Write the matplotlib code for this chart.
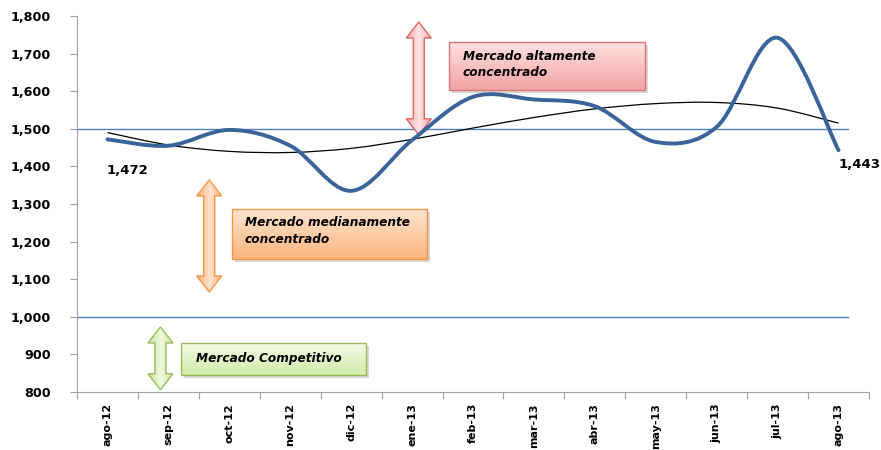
import matplotlib.pyplot as plt
import numpy as np
from matplotlib.path import Path
from matplotlib.patches import PathPatch, Polygon, Rectangle
from matplotlib.colors import LinearSegmentedColormap
from matplotlib.ticker import FuncFormatter, MultipleLocator

months = ['ago-12', 'sep-12', 'oct-12', 'nov-12', 'dic-12', 'ene-13', 'feb-13',
          'mar-13', 'abr-13', 'may-13', 'jun-13', 'jul-13', 'ago-13']
hhi = [1472, 1455, 1497, 1455, 1335, 1470, 1585, 1578, 1560, 1465, 1505, 1742, 1443]
trend = [1490, 1457, 1440, 1437, 1448, 1472, 1502, 1530, 1553, 1567, 1570, 1555, 1515]
thresholds = [1000, 1500]

PX_X = 1 / 60.9      # one pixel in category units
PX_Y = 100 / 37.6    # one pixel in value units


def smooth_path(xs, ys):
    # excel-like smoothed line: cubic bezier segments, catmull-rom control points
    xs = np.asarray(xs, float)
    ys = np.asarray(ys, float)
    n = len(xs)
    verts = [(xs[0], ys[0])]
    codes = [Path.MOVETO]
    for i in range(n - 1):
        p0 = (xs[max(i - 1, 0)], ys[max(i - 1, 0)])
        p1 = (xs[i], ys[i])
        p2 = (xs[i + 1], ys[i + 1])
        p3 = (xs[min(i + 2, n - 1)], ys[min(i + 2, n - 1)])
        c1 = (p1[0] + (p2[0] - p0[0]) / 6, p1[1] + (p2[1] - p0[1]) / 6)
        c2 = (p2[0] - (p3[0] - p1[0]) / 6, p2[1] - (p3[1] - p1[1]) / 6)
        verts += [c1, c2, p2]
        codes += [Path.CURVE4] * 3
    return Path(verts, codes)


def gradient_fill(ax, patch, extent, colors, horizontal=False, z=3):
    ax.add_patch(patch)
    cmap = LinearSegmentedColormap.from_list('g', colors)
    if horizontal:
        img = np.linspace(0, 1, 64)[None, :]
    else:
        img = np.linspace(0, 1, 64)[:, None]
    im = ax.imshow(img, cmap=cmap, extent=extent, origin='upper',
                   aspect='auto', zorder=z, interpolation='bilinear')
    im.set_clip_path(patch)


def block_arrow(ax, xc, ylo, yhi, colors, edge):
    # double headed block arrow, sizes in pixels converted to data units
    sw, hw, hl = 5.5 * PX_X, 12.5 * PX_X, 16 * PX_Y
    pts = [(xc, yhi), (xc + hw, yhi - hl), (xc + sw, yhi - hl), (xc + sw, ylo + hl),
           (xc + hw, ylo + hl), (xc, ylo), (xc - hw, ylo + hl), (xc - sw, ylo + hl),
           (xc - sw, yhi - hl), (xc - hw, yhi - hl)]
    gradient_fill(ax, Polygon(pts, closed=True, facecolor='none', edgecolor='none'),
                  (xc - hw, xc + hw, ylo, yhi), colors, horizontal=True, z=3)
    ax.add_patch(Polygon(pts, closed=True, facecolor='none', edgecolor=edge, lw=1.0, zorder=4))


def label_box(ax, x0, x1, y0, y1, top, bottom, edge, lines, tx, ty, dy):
    shadow = Rectangle((x0 + 3 * PX_X, y0 - 3 * PX_Y), x1 - x0, y1 - y0, facecolor='#bdbdbd',
                       edgecolor='none', alpha=0.6, zorder=2)
    ax.add_patch(shadow)
    gradient_fill(ax, Rectangle((x0, y0), x1 - x0, y1 - y0, facecolor='none', edgecolor='none'),
                  (x0, x1, y0, y1), [top, bottom], z=3)
    ax.add_patch(Rectangle((x0, y0), x1 - x0, y1 - y0, facecolor='none', edgecolor=edge,
                           lw=1.0, zorder=4))
    for k, s in enumerate(lines):
        ax.text(tx, ty - k * dy, s, fontsize=8.7, fontweight='bold', fontstyle='italic',
                ha='left', va='center', zorder=5)


fig = plt.figure(figsize=(8.81, 4.5), dpi=100)
ax = fig.add_axes([77 / 881, 58 / 450, 792 / 881, 376 / 450])

x = np.arange(len(months))

for t in thresholds:
    ax.axhline(t, xmin=0, xmax=(848 - 77) / 792, color='#4F81BD', lw=1.0, zorder=1)

ax.add_patch(PathPatch(smooth_path(x, trend), facecolor='none', edgecolor='black', lw=0.9, zorder=5))
ax.add_patch(PathPatch(smooth_path(x, hhi), facecolor='none', edgecolor='#3A6399', lw=2.8,
                       zorder=6, capstyle='round'))

# arrows and labels for market concentration ranges
block_arrow(ax, 5.11, 1484, 1784, ['#F4A6A6', '#FFE4E4', '#F4A6A6'], '#E06666')
label_box(ax, 5.6, 8.83, 1603, 1731, '#FFE2E2', '#F3A3A3', '#D9777A',
          ['Mercado altamente', 'concentrado'], 5.83, 1691, 40)

block_arrow(ax, 1.67, 1066, 1364, ['#F9B27A', '#FFE3CC', '#F9B27A'], '#F79646')
label_box(ax, 2.04, 5.24, 1154, 1287, '#FFE6D2', '#FBB47E', '#F79646',
          ['Mercado medianamente', 'concentrado'], 2.25, 1252, 46)

block_arrow(ax, 0.87, 806, 973, ['#C8E39A', '#F0F9E2', '#C8E39A'], '#9BBB59')
label_box(ax, 1.21, 4.25, 845, 930, '#F3FAE6', '#D2EBA9', '#9BBB59',
          ['Mercado Competitivo'], 1.46, 889, 0)

ax.text(0.33, 1390, '{:,}'.format(hhi[0]), fontsize=9.5, fontweight='bold', ha='center', va='center')
ax.text(12.0, 1404, '{:,}'.format(hhi[-1]), fontsize=9.5, fontweight='bold', ha='left', va='center')

ax.set_xlim(-0.5, len(months) - 0.5)
ax.set_ylim(800, 1800)
ax.yaxis.set_major_locator(MultipleLocator(100))
ax.yaxis.set_major_formatter(FuncFormatter(lambda v, p: '{:,.0f}'.format(v)))
ax.set_xticks(np.arange(-0.5, len(months), 1.0))
ax.set_xticklabels([])
ax.set_xticks(x, minor=True)
ax.set_xticklabels(months, minor=True, rotation=90, fontsize=8, fontweight='bold')
ax.tick_params(axis='x', which='minor', length=0, pad=8)
ax.tick_params(axis='x', which='major', length=5, color='#A0A0A0', direction='out')
ax.tick_params(axis='y', length=5, color='#A0A0A0', direction='out', pad=14, labelsize=9.2)
for lab in ax.get_yticklabels():
    lab.set_fontweight('bold')

for s in ['top', 'right']:
    ax.spines[s].set_visible(False)
for s in ['left', 'bottom']:
    ax.spines[s].set_color('#A0A0A0')

fig.savefig('out.png', dpi=100)
